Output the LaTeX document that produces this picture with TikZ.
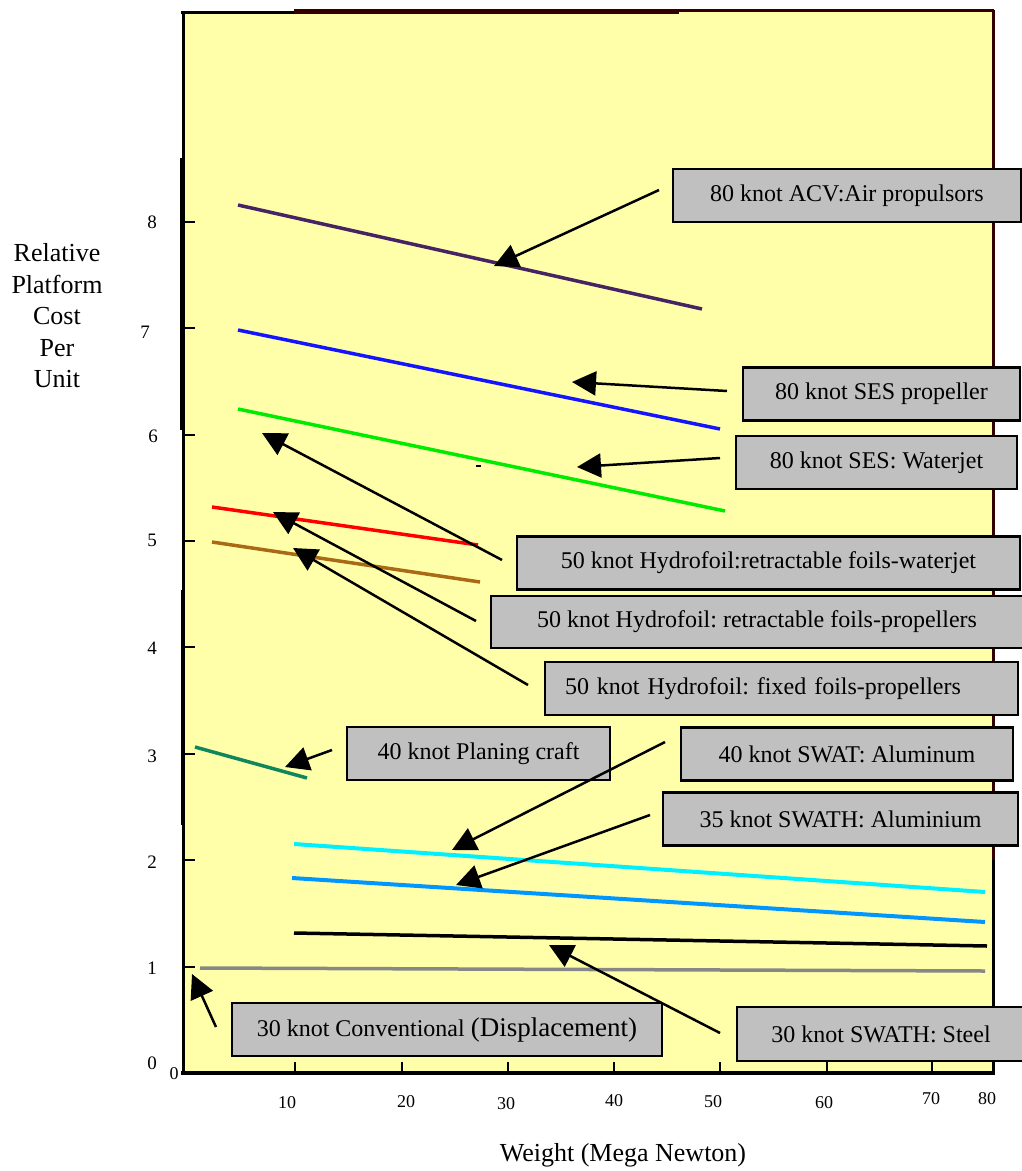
\documentclass[tikz,border=0pt]{standalone}
\usepackage{fontspec}
\setmainfont{Liberation Serif}
\usetikzlibrary{arrows.meta}
\frenchspacing

\definecolor{chartyellow}{RGB}{255,255,170}
\definecolor{boxgray}{RGB}{192,192,192}
\definecolor{framebrown}{RGB}{51,0,0}
\definecolor{acvpurple}{RGB}{70,36,100}
\definecolor{sesblue}{RGB}{20,20,255}
\definecolor{sesgreen}{RGB}{0,235,0}
\definecolor{foilbrown}{RGB}{170,105,20}
\definecolor{planegreen}{RGB}{15,135,90}
\definecolor{swatcyan}{RGB}{0,240,255}
\definecolor{swathblue}{RGB}{0,150,255}
\definecolor{convgray}{RGB}{135,135,135}

\tikzset{
  tag/.style={draw=black,line width=2.5pt,fill=boxgray,minimum height=53pt,inner sep=0pt,font=\fontsize{24}{29}\selectfont},
  pointer/.style={-{Triangle[length=24pt,width=24pt]},line width=2.5pt},
  curve/.style={line width=3.5pt},
  ticklbl/.style={font=\fontsize{19}{23}\selectfont},
  title/.style={font=\fontsize{26}{31.5}\selectfont}
}

\begin{document}
\begin{tikzpicture}[x=1pt,y=-1pt]
	\useasboundingbox (0,0) rectangle (1021,1171);
	
	%plot area
	\fill[chartyellow] (183,12) rectangle (993,1073);
	\draw[line width=3pt] (183,12) -- (183,1073);
	\draw[line width=5pt] (182,158) -- (182,430);
	\draw[line width=4.5pt] (183,590) -- (183,825);
	\draw[framebrown,line width=3pt] (993,10) -- (993,860);
	\draw[line width=3pt] (993,860) -- (993,1073);
	\draw[line width=3pt] (181,12) -- (294,12);
	\draw[framebrown,line width=5pt] (294,11) -- (679,11);
	\draw[framebrown,line width=3pt] (679,10) -- (994,10);
	\draw[line width=4pt] (181,1073) -- (995,1073);
	
	%ticks
	\foreach \v in {1,...,8}
		\draw[line width=2pt] (183,{1073-106.4*\v}) -- ++(12,0);
	\foreach \x in {295,402,508,614,720,827,932}
		\draw[line width=2pt] (\x,1073) -- (\x,1062);
	\foreach \v/\x/\y in {0/152/1063,1/152/968,2/152/862,3/152/756,4/152/648,5/152/540,6/153/436,7/145/332,8/152/222}
		\node[ticklbl] (ylab\v) at (\x,\y) {\v};
	\foreach \v/\x/\y in {0/174/1074,10/287/1103,20/406/1102,30/506/1104,40/614/1101,50/713/1102,60/824/1103,70/931/1099,80/987/1099}
		\node[ticklbl,font=\fontsize{18}{22}\selectfont] (xlab\v) at (\x,\y) {\v};
	
	\node[title,align=center] (ytitle) at (57,316) {Relative\\Platform\\Cost\\Per\\Unit};
	\node[title] (xtitle) at (623,1155) {Weight (Mega Newton)};
	
	%cost lines
	\draw[curve,acvpurple] (238,205) -- (702,309);
	\draw[curve,sesblue] (238,330) -- (720,429);
	\draw[curve,sesgreen] (238,409) -- (725,511);
	\draw[line width=1.5pt] (476,466) -- (481,466);
	\draw[curve,red] (212,507) -- (478,545);
	\draw[curve,foilbrown] (212,542) -- (480,582);
	\draw[curve,planegreen] (195,747) -- (307,778);
	\draw[curve,line width=4pt,swatcyan] (294,844) -- (985,892);
	\draw[curve,line width=4pt,swathblue] (292,878) -- (985,922);
	\draw[curve,black] (294,933) -- (987,946);
	\draw[curve,convgray] (200,968) -- (985,971);
	
	%labels
	\node[tag,minimum width=348pt] (acvbox) at (847,195.5) {80 knot ACV:Air propulsors};
	\node[tag,minimum width=277pt] (sespbox) at (881.5,394) {80 knot SES propeller};
	\node[tag,minimum width=281pt] (seswbox) at (876.5,462.5) {80 knot SES: Waterjet};
	\node[tag,minimum width=503pt] (hwjbox) at (768.5,563) {50 knot Hydrofoil:retractable foils-waterjet};
	\node[tag,minimum width=532pt,minimum height=52pt] (hrpbox) at (757,622) {50 knot Hydrofoil: retractable foils-propellers};
	\node[tag,text width=433pt,inner xsep=20pt,align=left] (hfpbox) at (781.5,688.5) {50 knot Hydrofoil: fixed foils-propellers};
	\node[tag,minimum width=263pt] (planbox) at (478.5,753.5) {40 knot Planing craft};
	\node[tag,minimum width=332pt] (swatbox) at (847,754) {40 knot SWAT: Aluminum};
	\node[tag,minimum width=355pt] (swathbox) at (840.5,819) {35 knot SWATH: Aluminium};
	\node[tag,minimum width=430pt] (convbox) at (447,1029.5) {30 knot Conventional {\fontsize{27}{30}\selectfont(Displacement)}};
	\node[tag,minimum width=288pt,minimum height=54pt] (steelbox) at (881,1034) {30 knot SWATH: Steel};
	
	%pointers
	\coordinate (acvtail) at (659,190);   \coordinate (acvtip) at (494,266);
	\coordinate (sesptail) at (727,391);  \coordinate (sesptip) at (572,382);
	\coordinate (seswtail) at (720,458);  \coordinate (seswtip) at (577,467);
	\coordinate (hwjtail) at (502,560);   \coordinate (hwjtip) at (262,433);
	\coordinate (hrptail) at (476,621);   \coordinate (hrptip) at (273,512);
	\coordinate (hfptail) at (528,685);   \coordinate (hfptip) at (293,548);
	\coordinate (plantail) at (332,750);  \coordinate (plantip) at (285,767);
	\coordinate (swattail) at (665,742);  \coordinate (swattip) at (452,850);
	\coordinate (swathtail) at (650,815); \coordinate (swathtip) at (456,885);
	\coordinate (steeltail) at (720,1033);\coordinate (steeltip) at (549,945);
	\coordinate (convtail) at (216,1027); \coordinate (convtip) at (192,974);
	\foreach \p in {acv,sesp,sesw,hwj,hrp,hfp,plan,swat,swath,steel,conv}
		\draw[pointer] (\p tail) -- (\p tip);
\end{tikzpicture}
\end{document}
